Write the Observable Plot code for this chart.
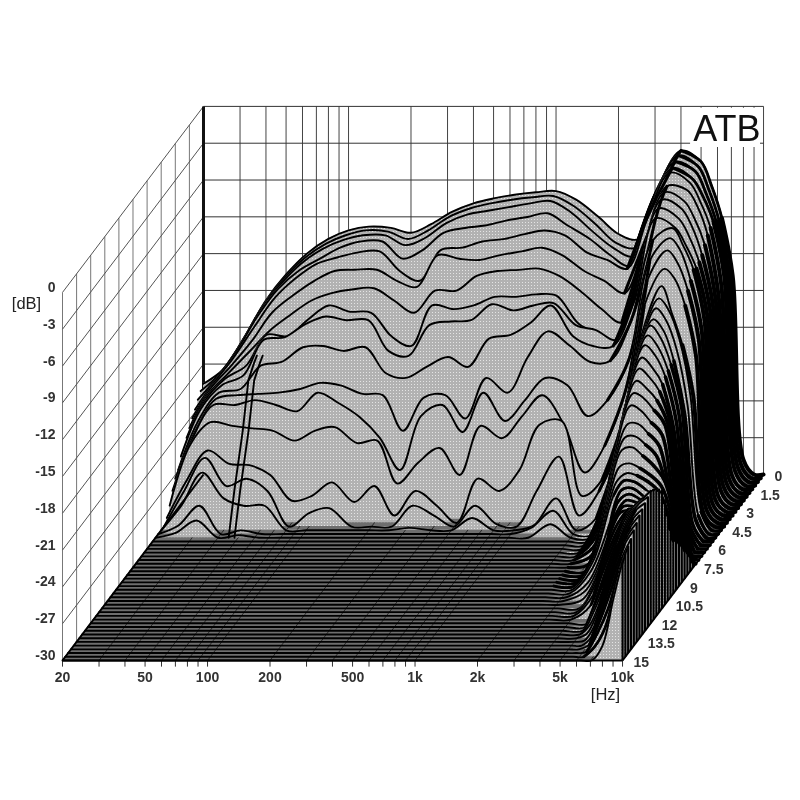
<!DOCTYPE html>
<html>
<head>
<meta charset="utf-8">
<style>html,body{margin:0;padding:0;background:#fff}</style>
<script src="https://cdn.jsdelivr.net/npm/d3@7"></script>
<script src="https://cdn.jsdelivr.net/npm/@observablehq/plot@0.6"></script>
</head>
<body>
<div id="chart"></div>
<script>
const frequencies = [20,25,31.5,40,50,63,80,100,125,160,200,250,315,400,500,630,800,1000,1250,1600,2000,2500,3150,4000,5000,5600,6300,7100,8000,9000,10000];
const sliceStep = 0.3; // ms between slices

// dB at every frequency, slices 0 ms to 5.1 ms
const earlySlices = [
[-22.6,-21.4,-18.8,-15.8,-13.7,-12,-10.8,-10.1,-9.8,-9.9,-10.3,-9.6,-8.6,-7.9,-7.5,-7.2,-7,-6.9,-7.6,-9,-10.4,-10.8,-6.4,-3.6,-4.5,-6.4,-9.1,-13.8,-28.8,-30,-30],
[-22.9,-21.4,-18.9,-15.9,-13.8,-12.1,-10.9,-10.2,-9.8,-9.9,-10.5,-9.8,-8.7,-8,-7.6,-7.3,-7.1,-7,-7.8,-9.3,-10.8,-11.2,-6.6,-3.7,-4.6,-6.4,-9,-13.8,-28.8,-30,-30],
[-23.3,-21.4,-19,-16,-13.9,-12.2,-11,-10.3,-9.9,-9.9,-10.7,-10.1,-8.9,-8.2,-7.9,-7.6,-7.3,-7.1,-8,-9.6,-10.9,-11.6,-6.8,-3.9,-4.7,-6.4,-8.8,-13.3,-28.8,-30,-30],
[-23.8,-21.4,-19.1,-16.2,-14,-12.5,-11.5,-10.6,-10.1,-10.1,-11.5,-10.8,-9.4,-9,-8.8,-8.4,-8.1,-7.8,-8.8,-9.9,-11.2,-12.1,-7.2,-4.1,-5,-6.4,-8.5,-12.9,-28.8,-30,-30],
[-24.2,-21.5,-19.3,-16.7,-14.4,-12.8,-11.6,-11.1,-10.7,-10.6,-12.2,-13,-10.5,-10.3,-9.8,-9.6,-9.2,-8.9,-9.3,-10.7,-11.3,-12,-7.7,-4.2,-5,-6.5,-8.7,-13.4,-28.9,-30,-30],
[-24.7,-21.6,-19.7,-17.6,-15.3,-13.9,-12.7,-11.9,-11.8,-11.8,-12.7,-13.2,-10.6,-10.9,-11,-10.6,-10.3,-10,-10.6,-11.9,-12.7,-13.7,-9.4,-5,-5.3,-6.6,-9,-13.9,-28.9,-30,-30],
[-25.2,-21.8,-20,-18.2,-16.5,-15.2,-14,-13.4,-13.1,-13,-14,-15,-13.2,-13.2,-12,-11.6,-11.5,-11.4,-12,-13.3,-14.7,-15.8,-10.3,-5.2,-5.9,-7.3,-9.5,-14,-28.9,-30,-30],
[-26.1,-22,-20.1,-19,-16.5,-16.6,-15.2,-14.1,-14.6,-14.7,-16.6,-17.4,-14.1,-14.4,-14.1,-13.4,-13.4,-13.2,-13.3,-15.6,-16.4,-17,-11.3,-5.5,-6.2,-7.6,-10,-14.1,-28.9,-30,-30],
[-26.1,-22.2,-20.3,-19.5,-16.6,-16.4,-15.3,-14.7,-15,-15,-17.5,-17.9,-15.4,-15.1,-15,-13.7,-14.2,-13.8,-13.6,-15.4,-15.8,-16.6,-12.2,-5.9,-6.7,-8.1,-10.3,-14.2,-28.9,-30,-30],
[-26.9,-22.9,-20.6,-20.3,-18.4,-18.1,-16.9,-16.8,-17.2,-16.9,-19,-19.4,-18.5,-17.7,-18.5,-16.2,-15.9,-14.9,-13.5,-16,-16.8,-16.8,-13.1,-6.4,-7.2,-8.6,-10.5,-14.3,-29,-30,-30],
[-27.3,-23.4,-20.8,-20.5,-20.4,-20.3,-20,-19.5,-19.7,-20.4,-20.5,-23.4,-20.7,-20.5,-22.4,-19.1,-20.3,-17.4,-15.3,-16.5,-17.8,-17.7,-14.4,-7.9,-6.9,-8.3,-10.3,-14.4,-29,-30,-30],
[-28,-23.7,-21,-21,-20.6,-21,-21.5,-20,-20.8,-22,-23.7,-26.3,-21.9,-21,-23.2,-20,-22.3,-20.6,-18.8,-19.4,-21.9,-20.6,-17.4,-9.2,-7.4,-8.4,-10.9,-14.9,-29,-30,-30],
[-28.9,-24,-22.1,-22.4,-22.6,-22.8,-23.6,-22.8,-22.5,-23.8,-23.6,-27.1,-25.4,-24.2,-26.4,-22.4,-23.4,-21.6,-19.9,-22.4,-26.2,-24,-19.5,-10.6,-8.1,-9.1,-11.4,-15.4,-29,-30,-30],
[-29.6,-26.5,-24.1,-25.2,-25.3,-26.1,-28.2,-27.8,-26.7,-28.3,-27,-29.4,-27.4,-28.6,-30,-26.4,-27.4,-25.7,-22,-21.7,-27.8,-26.5,-21.7,-12.3,-9.3,-10.1,-12.3,-16.4,-29,-30,-30],
[-30,-27.1,-24.4,-26.7,-26.1,-27.1,-30,-28.9,-28.5,-30,-30,-30,-28.3,-29.1,-30,-28.3,-29.8,-30,-27.1,-24.3,-29.1,-27.1,-23,-14.4,-10.4,-12.6,-15.2,-19.3,-29,-30,-30],
[-30,-28,-25.3,-27.4,-28,-28,-30,-30,-30,-30,-30,-30,-29.8,-30,-30,-29,-30,-30,-29.6,-27.4,-30,-29,-23.9,-15.3,-11.1,-12.1,-14.5,-19,-28.5,-30,-30],
[-30,-29.3,-27.7,-30,-29.7,-30,-30,-30,-30,-30,-30,-30,-30,-30,-30,-30,-30,-30,-29.5,-28.1,-30,-30,-24.4,-16.3,-11.6,-12.6,-15,-19.5,-28.5,-30,-30],
[-30,-29.6,-28.6,-30,-29.8,-30,-30,-30,-30,-30,-30,-30,-30,-30,-30,-30,-30,-30,-30,-28.9,-30,-30,-25.3,-16.8,-12.2,-13.1,-15.6,-20,-28.5,-30,-30]
];

// dB from 3.15 kHz to 10 kHz, slices 5.4 ms to 15 ms; below 3.15 kHz they lie on the floor
const lateFrequencyStart = 22;
const lateSlices = [
[-25.8,-17.3,-12.4,-13.4,-15.6,-19.2,-28.6,-30,-30],
[-26.5,-18,-12.9,-13.8,-15.8,-19.4,-28.4,-30,-30],
[-27,-18.6,-13.4,-14.2,-16,-19.6,-28,-30,-30],
[-27.6,-19.3,-14.1,-14.9,-16.3,-19.8,-27.4,-30,-30],
[-28.2,-20,-14.7,-15.4,-16.6,-19.2,-26.2,-30,-30],
[-28.8,-20.8,-15.4,-16,-17,-18.9,-25.5,-29.8,-30],
[-29.3,-21.6,-16.1,-16.5,-17.5,-18.7,-24.8,-29.3,-30],
[-29.7,-22.4,-16.8,-17.2,-18.2,-19.2,-24.4,-28.8,-29.6],
[-30,-23.5,-18,-18,-18.8,-19.8,-23.8,-27.8,-28.8],
[-30,-24.5,-18.8,-18.7,-19.4,-20.3,-23,-26.5,-28.2],
[-30,-25.3,-19.5,-19.3,-20,-20.8,-22,-25.3,-27.7],
[-30,-26.3,-20.6,-20.3,-20.7,-21.3,-22.2,-24.8,-27],
[-30,-27,-21.5,-20.8,-21,-21.5,-22.3,-24.5,-26.5],
[-30,-27.6,-22.3,-21.1,-21.2,-21.8,-22.5,-24.2,-26],
[-30,-28.2,-24,-21.6,-21.4,-22,-22.8,-24,-25.7],
[-30,-28.8,-25,-22.2,-21.6,-22,-22.6,-23.4,-24.5],
[-30,-29.2,-25.8,-23,-21.8,-22,-22.4,-22.8,-23],
[-30,-29.6,-26.4,-23.6,-22,-22,-22.2,-22,-21.6],
[-30,-30,-26.8,-24,-22.2,-22,-22,-21.2,-20.4],
[-30,-30,-27.5,-24.8,-22.8,-21.6,-21.4,-20.6,-20],
[-30,-30,-28.2,-25.6,-23.5,-21.8,-21,-20.2,-19.6],
[-30,-30,-28.8,-26.4,-24.2,-22.2,-20.8,-20,-19.4],
[-30,-30,-30,-27.5,-25,-22.8,-21,-20,-19.2],
[-30,-30,-30,-28,-25.8,-23.4,-21.3,-20,-19.4],
[-30,-30,-30,-28.6,-26.5,-24,-21.8,-20.2,-19.6],
[-30,-30,-30,-29.2,-27.2,-24.6,-22.3,-20.6,-19.8],
[-30,-30,-30,-29.6,-27.8,-25.2,-22.8,-21,-20],
[-30,-30,-30,-29.9,-28.6,-26,-23.5,-21.4,-20.3],
[-30,-30,-30,-30,-29.2,-26.8,-24.2,-21.8,-20.6],
[-30,-30,-30,-30,-29.6,-27.6,-25.2,-22.6,-21],
[-30,-30,-30,-30,-29.9,-28.4,-26.4,-23.4,-21.3],
[-30,-30,-30,-30,-30,-29.2,-27.6,-24.3,-21.6],
[-30,-30,-30,-30,-30,-30,-28.8,-25.1,-21.9]
];

// the steep edge near 46 Hz that runs through the slices
const edgeTimes = [2.1,2.4,3,3.6,4.5,5.1];
const edgeDb = [-18.2,-18.5,-19.3,-22.8,-26.8,-30];
const edgeFrequencies = [45,48];

const gridFrequencies = [20,30,40,50,60,70,80,90,100,200,300,400,500,600,700,800,900,1000,2000,3000,4000,5000,6000,7000,8000,9000,10000];
const dbTicks = [0,-3,-6,-9,-12,-15,-18,-21,-24,-27,-30];
const timeTicks = [0,1.5,3,4.5,6,7.5,9,10.5,12,13.5,15];
const timeLabels = ["0","1.5","3","4.5","6","7.5","9","10.5","12","13.5","15"];
const freqTicks = [20,50,100,200,500,1000,2000,5000,10000];
const freqLabels = ["20","50","100","200","500","1k","2k","5k","10k"];

// oblique projection: later time moves towards the viewer, down and to the left
const shearX = 0.0453, shearY = 1.0106;
const px = (f, t) => Math.log10(f / 20) + shearX * (15 - t);
const py = (db, t) => db + shearY * (15 - t);

const FONT = "Liberation Sans, Arial, sans-serif";
const CURVE = "catmull-rom";
const HALFTONE = "url(#halftone)";

// halftone grey of the slice faces
const halftoneDefs = () => {
  const ns = "http://www.w3.org/2000/svg";
  const defs = document.createElementNS(ns, "defs");
  const pat = document.createElementNS(ns, "pattern");
  pat.setAttribute("id", "halftone");
  pat.setAttribute("patternUnits", "userSpaceOnUse");
  pat.setAttribute("width", 3);
  pat.setAttribute("height", 3);
  const bg = document.createElementNS(ns, "rect");
  bg.setAttribute("width", 3); bg.setAttribute("height", 3); bg.setAttribute("fill", "#b2b2b2");
  const dot = document.createElementNS(ns, "rect");
  dot.setAttribute("width", 1); dot.setAttribute("height", 1); dot.setAttribute("fill", "#e4e4e4");
  pat.append(bg, dot);
  defs.append(pat);
  return defs;
};

const allRows = earlySlices.concat(lateSlices.map(r => new Array(lateFrequencyStart).fill(-30).concat(r)));

const segs = [];
gridFrequencies.forEach(f => segs.push({x1:px(f,0),y1:py(-30,0),x2:px(f,0),y2:py(0,0),s:"#444",w:1}));
dbTicks.forEach(d => segs.push({x1:px(20,0),y1:py(d,0),x2:px(10000,0),y2:py(d,0),s:"#333",w:1}));
timeTicks.forEach(t => segs.push({x1:px(20,t),y1:py(-30,t),x2:px(20,t),y2:py(0,t),s:"#777",w:1}));
dbTicks.forEach(d => segs.push({x1:px(20,0),y1:py(d,0),x2:px(20,15),y2:py(d,15),s:"#555",w:1}));

const floorOutline = [
  {x:px(20,15), y1:py(-30,15), y2:py(-30,15)},
  {x:px(20,0), y1:py(-30,15), y2:py(-30,0)},
  {x:px(10000,15), y1:py(-30,15), y2:py(-30,0)},
  {x:px(10000,0), y1:py(-30,0), y2:py(-30,0)}
];
const floorGrid = gridFrequencies.map(f => ({x1:px(f,15),y1:py(-30,15),x2:px(f,0),y2:py(-30,0)}));
const floorTicks = gridFrequencies.map(f => ({x1:px(f,15),y1:py(-30,15),x2:px(f,15),y2:py(-30.5,15)}));

const marks = [
  halftoneDefs,
  Plot.link(segs, {x1:"x1",y1:"y1",x2:"x2",y2:"y2",stroke:"s",strokeWidth:"w"}),
  Plot.link([{x:px(20,0)}], {x1:"x",x2:"x",y1:py(-30,0),y2:py(0,0),stroke:"#111",strokeWidth:3}),
  // label patch on the back wall
  Plot.rect([{a:4450,b:9670,c:-3.35,d:-0.15}], {x1:d=>px(d.a,0),x2:d=>px(d.b,0),y1:d=>py(d.c,0),y2:d=>py(d.d,0),fill:"white"}),
  Plot.text(["ATB"], {x:px(10000,0),y:py(-3,0),dx:-3,dy:-2,text:d=>d,textAnchor:"end",lineAnchor:"bottom",fontSize:36,fontFamily:FONT,fill:"#111"}),
  Plot.areaY(floorOutline, {x:"x",y1:"y1",y2:"y2",fill:"#6e6e6e"}),
  Plot.link(floorGrid, {x1:"x1",y1:"y1",x2:"x2",y2:"y2",stroke:"#111",strokeWidth:1,strokeOpacity:0.75}),
  Plot.link(floorTicks, {x1:"x1",y1:"y1",x2:"x2",y2:"y2",stroke:"#333",strokeWidth:1})
];

// heavier stretches of a slice where the printed lines run together: [first slice, last slice, first node, last node, width]
const heavyStretches = [
  [0,30,21,23,3.0],
  [0,3,23,27,2.8],
  [0,14,26,30,4],
  [15,17,28,30,3.4],
  [17,30,26,29,3.6],
  [18,35,29,30,3.4],
  [31,41,24,27,2.8],
  [42,49,26,29,2.8]
];

allRows.forEach((row, i) => {
  const t = i * sliceStep;
  const pts = row.map((db, k) => ({x:px(frequencies[k],t), y:py(db,t), base:py(-30,t)}));
  marks.push(Plot.areaY(pts, {x:"x",y1:"base",y2:"y",fill:HALFTONE,curve:CURVE}));
  marks.push(Plot.line(pts, {x:"x",y:"y",stroke:"#000",strokeWidth:1.9,curve:CURVE}));
  heavyStretches.forEach(([a,b,k0,k1,w]) => {
    if (i >= a && i <= b) marks.push(Plot.line(pts.slice(k0,k1+1), {x:"x",y:"y",stroke:"#000",strokeWidth:w,curve:CURVE}));
  });
  const last = pts[pts.length-1];
  if (row[row.length-1] > -30) marks.push(Plot.link([last], {x1:"x",x2:"x",y1:"base",y2:"y",stroke:"#000",strokeWidth:2.2}));
  if (i === earlySlices.length - 1) {
    edgeFrequencies.forEach(f => marks.push(Plot.line(edgeTimes.map((et,j)=>({x:px(f,et),y:py(edgeDb[j],et)})), {x:"x",y:"y",stroke:"#000",strokeWidth:1.9})));
  }
});

marks.push(
  Plot.link([{x1:px(20,15),x2:px(10000,15),y:py(-30,15)}], {x1:"x1",x2:"x2",y1:"y",y2:"y",stroke:"#000",strokeWidth:2}),
  Plot.link([{x1:px(20,15),x2:px(20,0)}], {x1:"x1",x2:"x2",y1:py(-30,15),y2:py(-30,0),stroke:"#000",strokeWidth:2}),
  Plot.link([{x1:px(10000,15),x2:px(10000,0)}], {x1:"x1",x2:"x2",y1:py(-30,15),y2:py(-30,0),stroke:"#000",strokeWidth:2}),
  Plot.text(dbTicks, {x:px(20,15),y:d=>py(d,15),dx:-7,dy:-5,text:d=>String(d),textAnchor:"end",fontSize:14,fontWeight:"bold",fontFamily:FONT,fill:"#333"}),
  Plot.text(["[dB]"], {x:px(20,15),y:py(-1,15),dx:-36,dy:-1,text:d=>d,fontSize:16.5,fontFamily:FONT,fill:"#222"}),
  Plot.text(freqTicks, {x:d=>px(d,15),y:py(-30,15),dy:17,text:(d,i)=>freqLabels[i],fontSize:14,fontWeight:"bold",fontFamily:FONT,fill:"#333"}),
  Plot.text(["[Hz]"], {x:px(10000,15),y:py(-30,15),dx:-17,dy:34,text:d=>d,fontSize:16.5,fontFamily:FONT,fill:"#222"}),
  Plot.text(timeTicks, {x:d=>px(10000,d),y:d=>py(-30,d),dx:11,dy:2,text:(d,i)=>timeLabels[i],textAnchor:"start",fontSize:14,fontWeight:"bold",fontFamily:FONT,fill:"#333"})
);

const chart = Plot.plot({
  width: 800, height: 800,
  marginTop: 0, marginRight: 0, marginBottom: 0, marginLeft: 0,
  style: {background:"#fff", display:"block", filter:"blur(0.4px)"},
  x: {axis:null, domain:[-62/207.5, 738/207.5], range:[0,800]},
  y: {axis:null, domain:[-30-140/12.27, -30+660/12.27], range:[800,0]},
  marks
});
document.getElementById("chart").appendChild(chart);
</script>
</body>
</html>
